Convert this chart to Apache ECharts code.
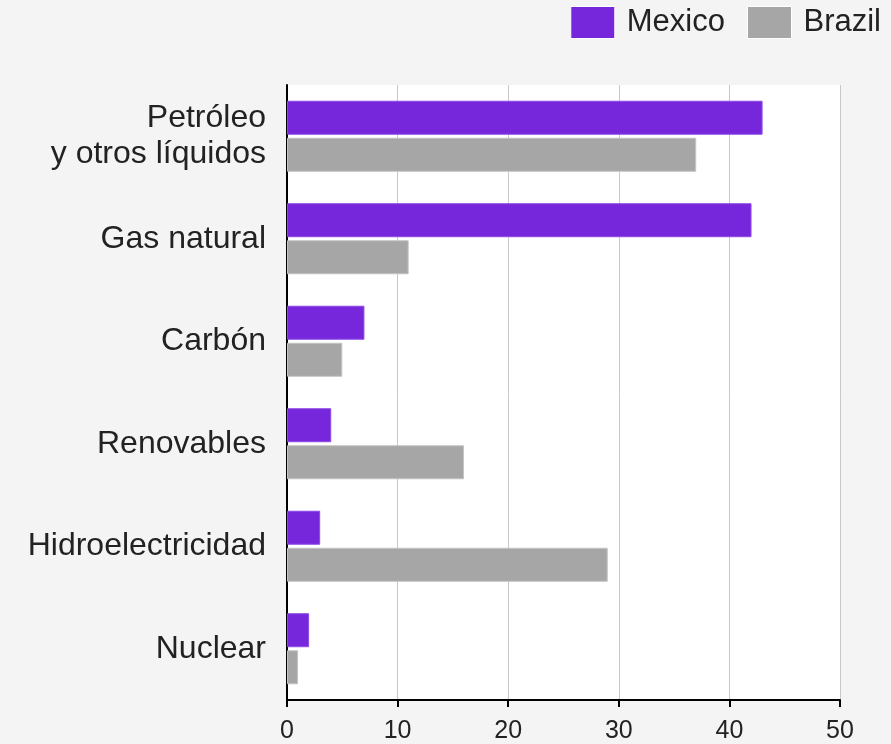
<!DOCTYPE html>
<html><head><meta charset="utf-8">
<script src="https://cdn.jsdelivr.net/npm/echarts@6/dist/echarts.min.js"></script>
<style>html,body{margin:0;padding:0;background:#f4f4f4;}#c{width:891px;height:744px;}</style>
</head><body><div id="c"></div>
<script>
const categories = ['Petróleo\ny otros líquidos', 'Gas natural', 'Carbón', 'Renovables', 'Hidroelectricidad', 'Nuclear'];
const mexico = [43, 42, 7, 4, 3, 2];
const brazil = [37, 11, 5, 16, 29, 1];
const xTicks = [0, 10, 20, 30, 40, 50];

const chart = echarts.init(document.getElementById('c'), null, {renderer: 'canvas'});
const font = '"Liberation Sans", Arial, sans-serif';
chart.setOption({
  backgroundColor: '#f4f4f4',
  textStyle: {fontFamily: font},
  animation: false,
  legend: {
    right: 10, top: 6, padding: 0,
    icon: 'rect',
    itemWidth: 44, itemHeight: 32, itemGap: 22,
    itemStyle: {borderColor: '#ffffff', borderWidth: 1},
    textStyle: {fontSize: 31, color: '#222', fontFamily: font, padding: [0, 0, 0, 7]},
    data: ['Mexico', 'Brazil']
  },
  grid: {left: 287, right: 51, top: 85, bottom: 43, show: true, backgroundColor: '#ffffff', borderWidth: 0},
  xAxis: {
    type: 'value', min: xTicks[0], max: xTicks[xTicks.length - 1], interval: 10,
    axisLine: {show: true, lineStyle: {color: '#000', width: 2}},
    axisTick: {show: true, length: 7, lineStyle: {color: '#000', width: 2}},
    axisLabel: {fontSize: 25, color: '#222', margin: 19, fontFamily: font},
    splitLine: {show: true, lineStyle: {color: '#c8c8c8', width: 1}}
  },
  yAxis: {
    type: 'category', inverse: true, data: categories,
    axisLine: {show: true, lineStyle: {color: '#000', width: 2}},
    axisTick: {show: false},
    axisLabel: {fontSize: 32, color: '#222', margin: 21, lineHeight: 36, align: 'right', fontFamily: font}
  },
  series: [
    {name: 'Mexico', type: 'bar', data: mexico, barWidth: 34, barGap: '9%',
     itemStyle: {color: '#7627dc', borderColor: '#8d4ae6', borderWidth: 1}},
    {name: 'Brazil', type: 'bar', data: brazil, barWidth: 34, barGap: '9%',
     itemStyle: {color: '#a6a6a6', borderColor: '#c4c4c4', borderWidth: 1}}
  ]
});
</script></body></html>
